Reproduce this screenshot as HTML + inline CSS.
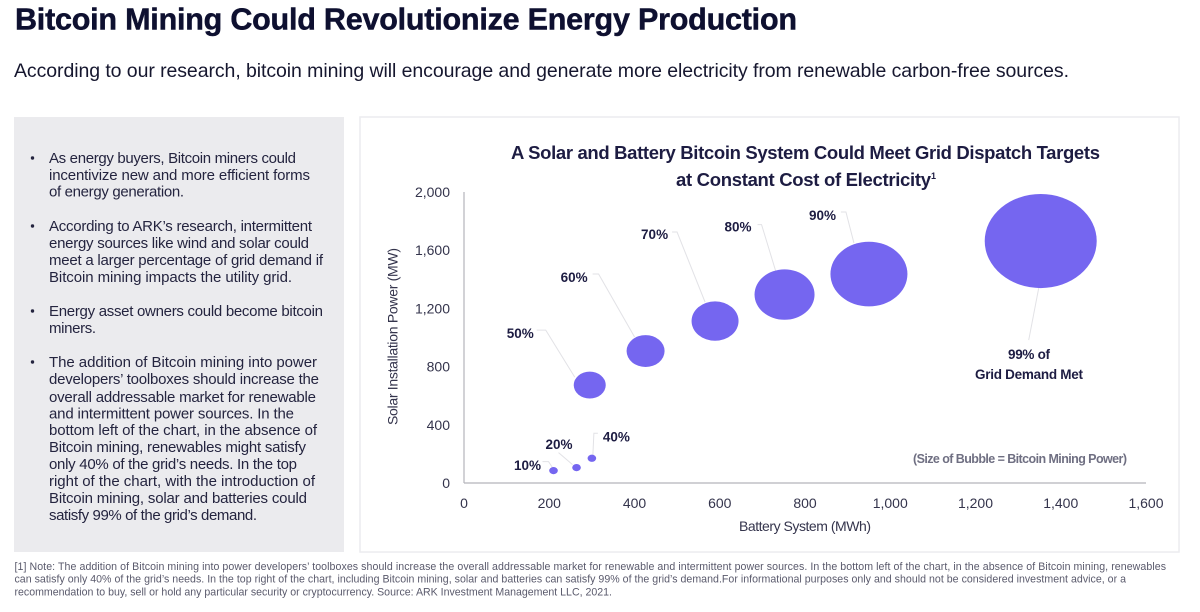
<!DOCTYPE html>
<html lang="en">
<head>
<meta charset="utf-8">
<title>Bitcoin Mining Could Revolutionize Energy Production</title>
<style>
  html, body { margin: 0; padding: 0; background: #ffffff; width: 1200px; height: 612px; overflow: hidden; }
  svg { display: block; font-family: "Liberation Sans", Arial, sans-serif; }
  .heading { fill: #0e1030; font-weight: 700; font-size: 30.5px; stroke: #0e1030; stroke-width: 0.5px; }
  .sub { fill: #16172f; font-size: 19.5px; }
  .body { fill: #24243f; font-size: 15px; }
  .foot { fill: #5a5a6c; font-size: 10.6px; }
  .ctitle { fill: #1d1c42; font-weight: 700; font-size: 18.5px; }
  .tick { fill: #34344c; font-size: 14px; }
  .atitle { fill: #34344c; font-size: 14px; }
  .lab { fill: #1d1c42; font-weight: 700; font-size: 13.5px; }
  .note { fill: #6f6f82; font-weight: 700; font-size: 12.5px; }
</style>
</head>
<body>
<svg id="page" xmlns="http://www.w3.org/2000/svg" width="1200" height="612" viewBox="0 0 1200 612">
  <text class="heading" x="15" y="29.5" textLength="782" lengthAdjust="spacing">Bitcoin Mining Could Revolutionize Energy Production</text>
  <text class="sub" x="14" y="77" textLength="1055" lengthAdjust="spacing">According to our research, bitcoin mining will encourage and generate more electricity from renewable carbon-free sources.</text>

  <rect x="14" y="117" width="330" height="435" fill="#ebebee"/>
  <rect x="360" y="117" width="819" height="435" fill="#ffffff" stroke="#ececef" stroke-width="1.5"/>

  <g>
    <circle cx="32.5" cy="158" r="1.7" fill="#24243f"/>
    <text class="body" x="49" y="163" textLength="247" lengthAdjust="spacing">As energy buyers, Bitcoin miners could</text>
    <text class="body" x="49" y="180" textLength="261" lengthAdjust="spacing">incentivize new and more efficient forms</text>
    <text class="body" x="49" y="196.5" textLength="135" lengthAdjust="spacing">of energy generation.</text>

    <circle cx="32.5" cy="226" r="1.7" fill="#24243f"/>
    <text class="body" x="49" y="231" textLength="263" lengthAdjust="spacing">According to ARK’s research, intermittent</text>
    <text class="body" x="49" y="248" textLength="260" lengthAdjust="spacing">energy sources like wind and solar could</text>
    <text class="body" x="49" y="265" textLength="274" lengthAdjust="spacing">meet a larger percentage of grid demand if</text>
    <text class="body" x="49" y="282" textLength="243" lengthAdjust="spacing">Bitcoin mining impacts the utility grid.</text>

    <circle cx="32.5" cy="311" r="1.7" fill="#24243f"/>
    <text class="body" x="49" y="316" textLength="274" lengthAdjust="spacing">Energy asset owners could become bitcoin</text>
    <text class="body" x="49" y="333" textLength="47" lengthAdjust="spacing">miners.</text>

    <circle cx="32.5" cy="362" r="1.7" fill="#24243f"/>
    <text class="body" x="49" y="367" textLength="268" lengthAdjust="spacing">The addition of Bitcoin mining into power</text>
    <text class="body" x="49" y="384" textLength="270" lengthAdjust="spacing">developers’ toolboxes should increase the</text>
    <text class="body" x="49" y="402" textLength="267" lengthAdjust="spacing">overall addressable market for renewable</text>
    <text class="body" x="49" y="418.5" textLength="245" lengthAdjust="spacing">and intermittent power sources. In the</text>
    <text class="body" x="49" y="435" textLength="268" lengthAdjust="spacing">bottom left of the chart, in the absence of</text>
    <text class="body" x="49" y="452" textLength="257" lengthAdjust="spacing">Bitcoin mining, renewables might satisfy</text>
    <text class="body" x="49" y="469" textLength="248" lengthAdjust="spacing">only 40% of the grid’s needs. In the top</text>
    <text class="body" x="49" y="486" textLength="266" lengthAdjust="spacing">right of the chart, with the introduction of</text>
    <text class="body" x="49" y="503" textLength="258" lengthAdjust="spacing">Bitcoin mining, solar and batteries could</text>
    <text class="body" x="49" y="520" textLength="208" lengthAdjust="spacing">satisfy 99% of the grid’s demand.</text>
  </g>

  <g>
    <text class="ctitle" x="511" y="159" textLength="589" lengthAdjust="spacing">A Solar and Battery Bitcoin System Could Meet Grid Dispatch Targets</text>
    <text class="ctitle" x="676" y="186" textLength="255" lengthAdjust="spacing">at Constant Cost of Electricity</text>
    <text class="ctitle" x="931" y="179" style="font-size:9px">1</text>
  </g>

  <g id="plot"></g>

  <text class="atitle" x="739" y="531" textLength="132" lengthAdjust="spacing">Battery System (MWh)</text>
  <text class="atitle" transform="translate(397.5 425) rotate(-90)" x="0" y="0" textLength="177" lengthAdjust="spacing">Solar Installation Power (MW)</text>
  <text class="note" x="913" y="463" textLength="214" lengthAdjust="spacing">(Size of Bubble = Bitcoin Mining Power)</text>
  <text class="lab" x="1008" y="359" textLength="42" lengthAdjust="spacing">99% of</text>
  <text class="lab" x="975" y="379" textLength="108" lengthAdjust="spacing">Grid Demand Met</text>

  <g>
    <text class="foot" x="14.5" y="570" textLength="1151.5" lengthAdjust="spacing">[1] Note: The addition of Bitcoin mining into power developers’ toolboxes should increase the overall addressable market for renewable and intermittent power sources. In the bottom left of the chart, in the absence of Bitcoin mining, renewables</text>
    <text class="foot" x="14.5" y="582.5" textLength="1111.5" lengthAdjust="spacing">can satisfy only 40% of the grid’s needs. In the top right of the chart, including Bitcoin mining, solar and batteries can satisfy 99% of the grid’s demand.For informational purposes only and should not be considered investment advice, or a</text>
    <text class="foot" x="14.5" y="595.5" textLength="597.5" lengthAdjust="spacing">recommendation to buy, sell or hold any particular security or cryptocurrency.  Source: ARK Investment Management LLC, 2021.</text>
  </g>
</svg>

<script>
// Chart data
const gridShare = ["10%", "20%", "40%", "50%", "60%", "70%", "80%", "90%", "99%"];
const batteryMWh = [210, 264, 300, 295, 426, 589, 752, 950, 1353];
const solarMW = [85, 106, 170, 673, 907, 1113, 1295, 1436, 1663];
const miningPower = [4.3, 4.3, 4.3, 16, 19, 23.5, 30, 38.5, 56];
const xTicks = [0, 200, 400, 600, 800, 1000, 1200, 1400, 1600];
const yTicks = [0, 400, 800, 1200, 1600, 2000];
const xTickLabels = ["0", "200", "400", "600", "800", "1,000", "1,200", "1,400", "1,600"];
const yTickLabels = ["0", "400", "800", "1,200", "1,600", "2,000"];

// Axis functions
const xScale = v => 464 + v * (1146 - 464) / 1600;
const yScale = v => 483 - v * (483 - 192) / 2000;
const rxScale = v => v;
const ryScale = v => v * 0.84;

// Callout geometry relative to each bubble's centre (layout, not data)
const calloutLayout = {
  "10%": { lx: -39.5, ly: -5.6, path: [[-11, -9], [-5, -9], [-1, -3]] },
  "20%": { lx: -31, ly: -23.6, path: [[-18, -15], [-4, -3]] },
  "40%": { lx: 11, ly: -22, path: [[6, -25], [2, -25], [1, -3]] },
  "50%": { lx: -83, ly: -52, path: [[-53, -55], [-44, -55], [-15, -8]] },
  "60%": { lx: -85, ly: -74, path: [[-53, -77], [-47, -77], [-11, -14]] },
  "70%": { lx: -74, ly: -87, path: [[-43, -89], [-38, -89], [-10, -19]] },
  "80%": { lx: -60, ly: -68, path: [[-27, -70], [-23, -70], [-9, -24]] },
  "90%": { lx: -60, ly: -59, path: [[-28, -62], [-23, -62], [-15, -31]] }
};

const NS = "http://www.w3.org/2000/svg";
const plot = document.getElementById("plot");

function make(tag, attrs, parent) {
  const el = document.createElementNS(NS, tag);
  Object.keys(attrs).forEach(k => el.setAttribute(k, attrs[k]));
  parent.appendChild(el);
  return el;
}

// Axis lines
const yAxisLine = make("line", { x1: xScale(0), x2: xScale(0), y1: yScale(2000), y2: yScale(0), stroke: "#b5b5bb", "stroke-width": 1.2 }, plot);


const xAxisLine = make("line", { x1: xScale(0), x2: xScale(1600), y1: yScale(0), y2: yScale(0), stroke: "#b5b5bb", "stroke-width": 1.2 }, plot);



// Tick labels
xTicks.forEach((t, i) => {
  const el = make("text", { class: "tick", x: xScale(t), y: 508, "text-anchor": "middle" }, plot);
  
  
  el.textContent = xTickLabels[i];
});
yTicks.forEach((t, i) => {
  const el = make("text", { class: "tick", x: 450, y: yScale(t) + 5, "text-anchor": "end" }, plot);
  
  
  el.textContent = yTickLabels[i];
});

// Leader lines go below the bubbles
gridShare.forEach((name, i) => {
  const cx = xScale(batteryMWh[i]);
  const cy = yScale(solarMW[i]);
  const layout = calloutLayout[name];
  if (!layout) return;
  const pts = layout.path.map(p => (cx + p[0]) + "," + (cy + p[1])).join(" ");
  const leader = make("polyline", { points: pts, fill: "none", stroke: "#e2e2e6", "stroke-width": 1 }, plot);
  
  
  const label = make("text", { class: "lab", x: cx + layout.lx, y: cy + layout.ly + 5 }, plot);
  
  
  label.textContent = name;
});

// Leader for the 99% callout
const lastIndex = gridShare.length - 1;
const lastCx = xScale(batteryMWh[lastIndex]);
const lastCy = yScale(solarMW[lastIndex]);
const lastBottom = lastCy + ryScale(miningPower[lastIndex]);
const lastLeader = make("line", { x1: lastCx - 2, y1: lastBottom, x2: lastCx - 12, y2: lastBottom + 52, stroke: "#e2e2e6", "stroke-width": 1 }, plot);



// Bubbles
gridShare.forEach((name, i) => {
  const b = make("ellipse", {
    cx: xScale(batteryMWh[i]),
    cy: yScale(solarMW[i]),
    rx: rxScale(miningPower[i]),
    ry: ryScale(miningPower[i]),
    fill: "#7566f0"
  }, plot);
  
  
});
</script>
</body>
</html>
